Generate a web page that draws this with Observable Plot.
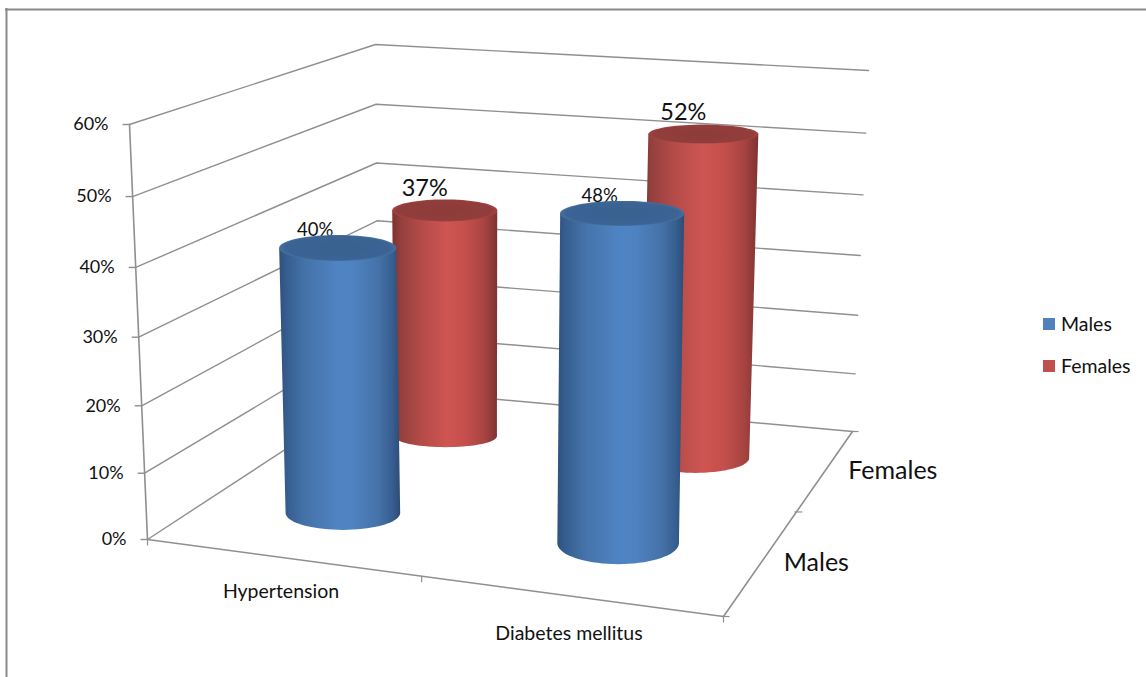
<!DOCTYPE html>
<html>
<head>
<meta charset="utf-8">
<script src="https://cdn.jsdelivr.net/npm/d3@7"></script>
<script src="https://cdn.jsdelivr.net/npm/@observablehq/plot@0.6"></script>
<style>
  html, body { margin: 0; padding: 0; background: #fff; }
  svg { display: block; }
</style>
</head>
<body>
<div id="chart"></div>
<script>
// Prevalence by condition and sex, in percent.
const categories = ["Hypertension", "Diabetes mellitus"];
const seriesNames = ["Males", "Females"];
const males = [40, 48];
const females = [37, 52];
const valueTicks = [0, 10, 20, 30, 40, 50, 60];
const valueMax = 60;

const W = 1146, H = 677;
const GRID = "#8f8f8f", INK = "#111";
const FONT = "Lato, Carlito, 'Open Sans', sans-serif";

// The eight screen corners of the chart box: floor and ceiling,
// each as [front-left, front-right, back-left, back-right].
const floorCorners = [[147, 539], [723, 616], [378, 388], [852, 431]];
const ceilCorners = [[129, 124], [733, 158], [375, 44], [868, 70]];

// Trilinear projection from box space (across, depth, percent) to the screen.
function lerp2(c, a, b) {
  return [0, 1].map(k =>
    (1 - a) * (1 - b) * c[0][k] + a * (1 - b) * c[1][k] +
    (1 - a) * b * c[2][k] + a * b * c[3][k]);
}
function project(a, b, v) {
  const f = lerp2(floorCorners, a, b), c = lerp2(ceilCorners, a, b), t = v / valueMax;
  return [f[0] + (c[0] - f[0]) * t, f[1] + (c[1] - f[1]) * t];
}
// Wall rulings bunch slightly toward the floor under the perspective.
const wallValue = v => {
  const t = v / valueMax;
  return (t - 0.05 * t * (1 - t)) * valueMax;
};
const pt = (a, b, v, extra = {}) => {
  const [x, y] = project(a, b, v);
  return {x, y, ...extra};
};

// Walls: each gridline runs along the left wall, then the back wall.
const gridRows = valueTicks.flatMap(v => [
  pt(0, 0, wallValue(v), {v}), pt(0, 1, wallValue(v), {v}), pt(1, 1, wallValue(v), {v})
]);
const frameRows = [
  ...[0, 60].map(v => pt(0, 0, v, {id: "left"})),
  pt(0, 0, 0, {id: "front"}), pt(1, 0, 0, {id: "front"}), pt(1, 1, 0, {id: "front"})
];

// Tick stubs on the three visible axes; foreshortening moves the midpoints.
const valueStubs = valueTicks.map(v => pt(0, 0, wallValue(v)));
const acrossStubs = [0, 0.476, 1].map(a => pt(a, 0, 0));
const depthStubs = [0, 0.565, 1].map(b => pt(1, b, 0));

// Cylinders: the camera looks further down on the bases than on the lids.
const slot = i => 0.25 + 0.5 * i;
const capRy = [[13, 12.5], [11, 9.5]];
const baseRy = [[17, 21], [11, 15]];
const rows = [
  ...categories.map((c, i) => ({category: c, i, s: 1, value: females[i]})),
  ...categories.map((c, i) => ({category: c, i, s: 0, value: males[i]}))
].map(d => {
  const top = project(slot(d.i), slot(d.s), d.value);
  const base = project(slot(d.i), slot(d.s), 0);
  return {
    ...d,
    rx: (d.s === 0 ? 58.5 + 3.5 * d.i : 52.5 + 2.5 * d.i),
    ry: capRy[d.s][d.i],
    ryBase: baseRy[d.s][d.i],
    cx: top[0], cy: top[1] - (d.s === 1 ? 2 : 0),
    bx: base[0], by: base[1] + (d.s === 0 ? 11 : 8) - baseRy[d.s][d.i]
  };
});

const turn = d3.range(0, 181, 5).map(t => t * Math.PI / 180);
function bodyPath(d) {
  const arc = turn.map(t => ({
    x: d.bx + (d.rx - 1.2) * Math.cos(t),
    y: d.by + d.ryBase * Math.sin(t),
    id: d.category
  }));
  return [
    {x: d.cx + d.rx, y: d.cy, id: d.category},
    ...arc,
    {x: d.cx - d.rx, y: d.cy, id: d.category}
  ];
}
function capPath(d) {
  return d3.range(0, 361, 5).map(t => ({
    x: d.cx + d.rx * Math.cos(t * Math.PI / 180),
    y: d.cy + d.ry * Math.sin(t * Math.PI / 180),
    id: d.category
  }));
}
const cylinderMarks = s => {
  const sel = rows.filter(d => d.s === s);
  const name = s === 0 ? "blue" : "red";
  return [
    Plot.line(sel.flatMap(bodyPath), {x: "x", y: "y", z: "id", fill: `url(#${name}Body)`, stroke: "none"}),
    Plot.line(sel.flatMap(capPath), {x: "x", y: "y", z: "id", fill: `url(#${name}Cap)`, stroke: "none"})
  ];
};
const labelMark = (s, size, dx, dy) => Plot.text(rows.filter(d => d.s === s), {
  x: "cx", y: "cy", text: d => `${d.value}%`,
  dx, dy, fontSize: size, fill: INK, fontFamily: FONT
});

const chart = Plot.plot({
  width: W, height: H, margin: 0,
  x: {domain: [0, W], range: [0, W], axis: null},
  y: {domain: [0, H], range: [0, H], axis: null},
  marks: [
    // outer chart frame, open on the right and at the bottom
    Plot.ruleY([9], {x1: 5, x2: W, stroke: "#8a8a8a", strokeWidth: 2}),
    Plot.ruleX([6], {y1: 8, y2: H, stroke: "#8a8a8a", strokeWidth: 2}),

    Plot.line(gridRows, {x: "x", y: "y", z: "v", stroke: GRID, strokeWidth: 1.4}),
    Plot.line(frameRows, {x: "x", y: "y", z: "id", stroke: GRID, strokeWidth: 1.6}),
    Plot.link(valueStubs, {x1: d => d.x - 7, x2: "x", y1: "y", y2: "y", stroke: GRID, strokeWidth: 1.4}),
    Plot.link(acrossStubs, {x1: "x", x2: "x", y1: "y", y2: d => d.y + 6, stroke: GRID, strokeWidth: 1.2}),
    Plot.link(depthStubs, {x1: d => d.x - 2, x2: d => d.x + 6, y1: "y", y2: "y", stroke: GRID, strokeWidth: 1.2}),

    Plot.text(valueStubs, {
      x: "x", y: "y", text: (d, i) => `${valueTicks[i]}%`,
      dx: -21, textAnchor: "end", fontSize: 18, fill: INK, fontFamily: FONT
    }),
    Plot.text(categories, {
      x: (d, i) => project(slot(i), 0, 0)[0], y: (d, i) => project(slot(i), 0, 0)[1] + 3 * i,
      text: d => d, dx: -10.5, dy: 33, fontSize: 19.5, fill: INK, fontFamily: FONT
    }),
    Plot.text(seriesNames, {
      x: (d, i) => project(1, slot(i), 0)[0], y: (d, i) => project(1, slot(i), 0)[1],
      text: d => d, dx: 28, dy: -7, textAnchor: "start", fontSize: 25, fill: INK, fontFamily: FONT
    }),

    ...cylinderMarks(1),
    labelMark(1, 23.5, -20, -22),
    labelMark(0, 18.5, -22.5, -17.5),
    ...cylinderMarks(0),

    // legend
    Plot.rect(seriesNames, {
      x1: 1043, x2: 1055,
      y1: (d, i) => 318 + 42 * i, y2: (d, i) => 330 + 42 * i,
      fill: (d, i) => (i === 0 ? "#4f81bd" : "#c0504d")
    }),
    Plot.text(seriesNames, {
      x: 1060.5, y: (d, i) => 324 + 42 * i, text: d => d,
      textAnchor: "start", fontSize: 19.5, fill: INK, fontFamily: FONT
    })
  ]
});
chart.style.background = "#fff";

// Shading for the cylinder sides and lids.
function addGradient(id, stops, kind = "linear") {
  const g = defs.append(kind === "linear" ? "linearGradient" : "radialGradient").attr("id", id);
  if (kind === "linear") g.attr("x1", 0).attr("x2", 1).attr("y1", 0).attr("y2", 0);
  stops.forEach(([o, c]) => g.append("stop").attr("offset", o).attr("stop-color", c));
}
const defs = d3.select(chart).insert("defs", ":first-child");
addGradient("blueBody", [[0, "#2f517c"], [0.06, "#355d8f"], [0.22, "#4573a9"], [0.5, "#4f84c4"],
  [0.62, "#4e82c0"], [0.82, "#4572a8"], [0.94, "#365d8e"], [1, "#2d4c75"]]);
addGradient("redBody", [[0, "#7c3230"], [0.08, "#94403d"], [0.28, "#b44b48"], [0.52, "#ce5552"],
  [0.7, "#c54f4c"], [0.88, "#a64441"], [1, "#7f3331"]]);
addGradient("blueCap", [[0, "#3a6290"], [0.9, "#3b6393"], [1, "#44709f"]], "radial");
addGradient("redCap", [[0, "#8d3c3a"], [0.9, "#913d3b"], [1, "#a34442"]], "radial");

document.getElementById("chart").append(chart);
</script>
</body>
</html>
